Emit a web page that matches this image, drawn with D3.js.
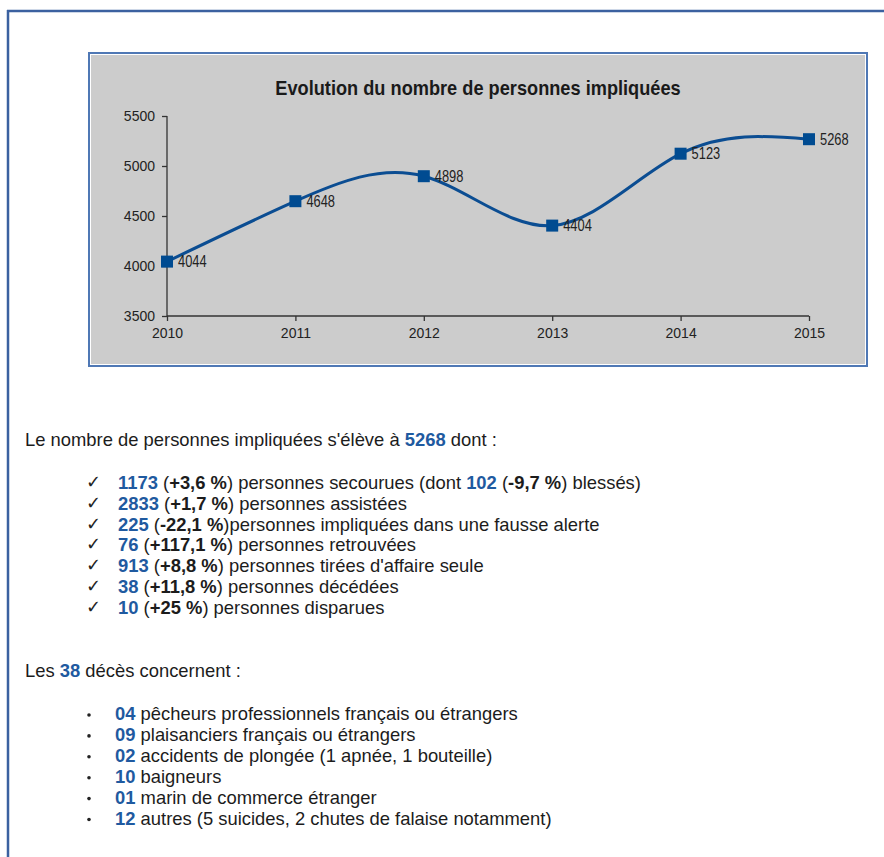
<!DOCTYPE html>
<html>
<head>
<meta charset="utf-8">
<script src="https://cdn.jsdelivr.net/npm/d3@7"></script>
<style>
  body { margin: 0; background: #fff; }
  svg text { font-family: "Liberation Sans", Arial, sans-serif; }
</style>
</head>
<body>
<svg id="page" width="884" height="857"></svg>
<script>
// chart data
const years = [2010, 2011, 2012, 2013, 2014, 2015];
const persons = [4044, 4648, 4898, 4404, 5123, 5268];
const yTicks = [3500, 4000, 4500, 5000, 5500];
const chartTitle = "Evolution du nombre de personnes impliquées";

// text blocks: [kind, text] segments, kind n = blue number, b = bold, t = plain
const intro = [["t", "Le nombre de personnes impliquées s'élève à "], ["n", "5268"], ["t", " dont :"]];
const checkItems = [
  [["n", "1173"], ["t", " ("], ["b", "+3,6 %"], ["t", ") personnes secourues (dont "], ["n", "102"], ["t", " ("], ["b", "-9,7 %"], ["t", ") blessés)"]],
  [["n", "2833"], ["t", " ("], ["b", "+1,7 %"], ["t", ") personnes assistées"]],
  [["n", "225"], ["t", " ("], ["b", "-22,1 %"], ["t", ")personnes impliquées dans une fausse alerte"]],
  [["n", "76"], ["t", " ("], ["b", "+117,1 %"], ["t", ") personnes retrouvées"]],
  [["n", "913"], ["t", " ("], ["b", "+8,8 %"], ["t", ") personnes tirées d'affaire seule"]],
  [["n", "38"], ["t", " ("], ["b", "+11,8 %"], ["t", ") personnes décédées"]],
  [["n", "10"], ["t", " ("], ["b", "+25 %"], ["t", ") personnes disparues"]]
];
const deathsIntro = [["t", "Les "], ["n", "38"], ["t", " décès concernent :"]];
const deathItems = [
  [["n", "04"], ["t", " pêcheurs professionnels français ou étrangers"]],
  [["n", "09"], ["t", " plaisanciers français ou étrangers"]],
  [["n", "02"], ["t", " accidents de plongée (1 apnée, 1 bouteille)"]],
  [["n", "10"], ["t", " baigneurs"]],
  [["n", "01"], ["t", " marin de commerce étranger"]],
  [["n", "12"], ["t", " autres (5 suicides, 2 chutes de falaise notamment)"]]
];

const svg = d3.select("#page");
const blue = "#0b4d92";

// page frame
svg.append("line").attr("x1", 7).attr("x2", 884).attr("y1", 11).attr("y2", 11)
  .attr("stroke", "#3b61a0").attr("stroke-width", 2.5);
svg.append("line").attr("x1", 8).attr("x2", 8).attr("y1", 10).attr("y2", 857)
  .attr("stroke", "#3b61a0").attr("stroke-width", 2.5);

// chart box
svg.append("rect").attr("x", 89).attr("y", 53).attr("width", 778).attr("height", 313)
  .attr("fill", "#fff").attr("stroke", "#4f78b5").attr("stroke-width", 2);
svg.append("rect").attr("x", 91).attr("y", 55).attr("width", 774).attr("height", 309)
  .attr("fill", "#cccccc");

svg.append("text").attr("transform", "translate(478,95) scale(1,1.1)").attr("text-anchor", "middle")
  .attr("font-size", 18.2).attr("font-weight", "bold").attr("fill", "#1a1a1a")
  .text(chartTitle);

const x = d3.scalePoint().domain(years).range([167, 809]);
const y = d3.scaleLinear().domain([3500, 5500]).range([316, 116]);

const g = svg.append("g");
const axisFont = "Liberation Sans, Arial, sans-serif";

g.append("g").attr("transform", "translate(0,316)")
  .call(d3.axisBottom(x).tickSize(5).tickPadding(7))
  .call(a => a.select(".domain").attr("stroke", "#333").attr("stroke-width", 1.3).attr("d", "M167,0H809"))
  .call(a => a.selectAll(".tick line").attr("stroke", "#333").attr("stroke-width", 1.3))
  .call(a => a.selectAll("text").attr("font-size", 14).attr("fill", "#222").attr("font-family", axisFont));

g.append("g").attr("transform", "translate(167,0)")
  .call(d3.axisLeft(y).tickValues(yTicks).tickFormat(d3.format("d")).tickSize(5).tickPadding(7))
  .call(a => a.select(".domain").attr("stroke", "#333").attr("stroke-width", 1.3).attr("d", "M0,116V316"))
  .call(a => a.selectAll(".tick line").attr("stroke", "#333").attr("stroke-width", 1.3))
  .call(a => a.selectAll("text").attr("font-size", 14).attr("fill", "#222").attr("font-family", axisFont));

const pts = years.map((yr, i) => [x(yr), y(persons[i])]);
g.append("path").datum(pts)
  .attr("d", d3.line().curve(d3.curveNatural))
  .attr("fill", "none").attr("stroke", blue).attr("stroke-width", 3);

g.selectAll("rect.pt").data(pts).enter().append("rect").attr("class", "pt")
  .attr("x", d => d[0] - 6).attr("y", d => d[1] - 6)
  .attr("width", 12).attr("height", 12).attr("fill", "#004b91");

g.selectAll("text.lbl").data(persons).enter().append("text").attr("class", "lbl")
  .attr("transform", (d, i) => `translate(${pts[i][0] + 11},${pts[i][1] + 5.5}) scale(0.92,1.12)`)
  .attr("font-size", 14)
  .attr("fill", "#222")
  .text(d => d);

// paragraph text
function writeLine(parent, segs, tx, ty) {
  const t = parent.append("text").attr("x", tx).attr("y", ty).attr("font-size", 18.4).attr("fill", "#1c1c1c");
  segs.forEach(s => {
    const sp = t.append("tspan").text(s[1]);
    if (s[0] === "n") sp.attr("fill", "#1f5aa0").attr("font-weight", "bold");
    if (s[0] === "b") sp.attr("font-weight", "bold");
  });
  return t;
}

writeLine(svg, intro, 25, 446);
checkItems.forEach((segs, i) => {
  const ty = 489 + i * 20.8;
  svg.append("text").attr("x", 86).attr("y", ty - 1).attr("font-size", 18)
    .attr("font-family", "DejaVu Sans").attr("fill", "#222").text("✓");
  writeLine(svg, segs, 118, ty);
});

writeLine(svg, deathsIntro, 25, 677);
deathItems.forEach((segs, i) => {
  const ty = 720 + i * 20.9;
  svg.append("circle").attr("cx", 89).attr("cy", ty - 5).attr("r", 1.8).attr("fill", "#222");
  writeLine(svg, segs, 115, ty);
});
</script>
</body>
</html>
